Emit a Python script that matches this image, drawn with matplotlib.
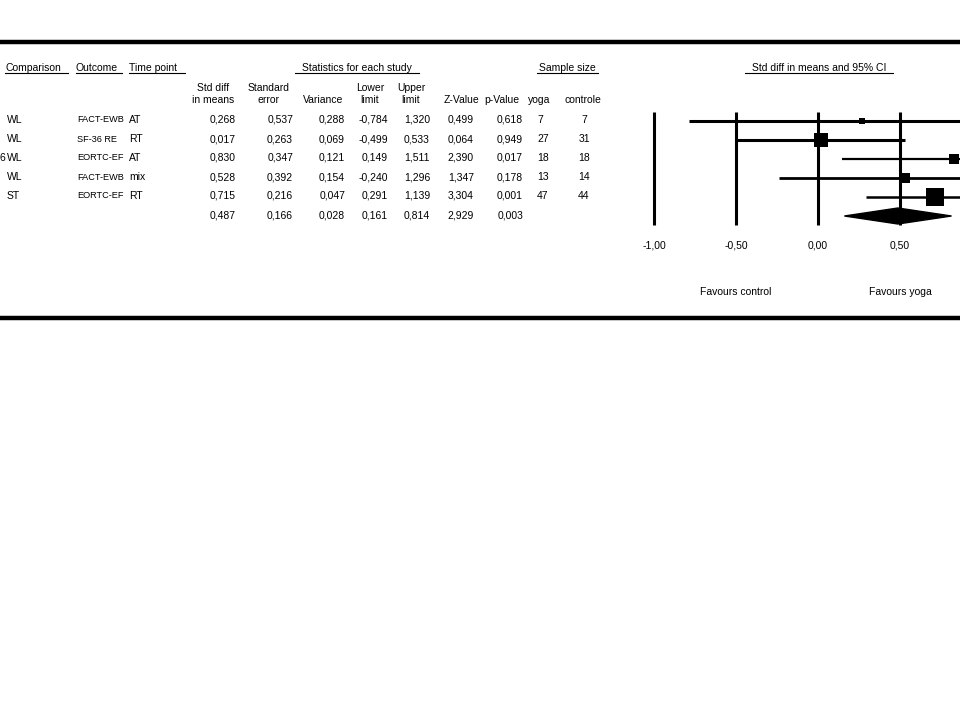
import numpy as np
import matplotlib
matplotlib.use("Agg")
import matplotlib.pyplot as plt
from matplotlib.patches import Polygon

plt.rcParams["font.family"] = ["Liberation Sans", "DejaVu Sans"]
FS = 7.5

# --- data ---
comparison = ["WL", "WL", "WL", "WL", "ST"]
outcome = ["FACT-EWB", "SF-36 RE", "EORTC-EF", "FACT-EWB", "EORTC-EF"]
time_point = ["AT", "RT", "AT", "mix", "RT"]
std_diff = [0.268, 0.017, 0.830, 0.528, 0.715]
std_err = [0.537, 0.263, 0.347, 0.392, 0.216]
variance = [0.288, 0.069, 0.121, 0.154, 0.047]
lower = [-0.784, -0.499, 0.149, -0.240, 0.291]
upper = [1.320, 0.533, 1.511, 1.296, 1.139]
z_value = [0.499, 0.064, 2.390, 1.347, 3.304]
p_value = [0.618, 0.949, 0.017, 0.178, 0.001]
n_yoga = [7, 27, 18, 13, 47]
n_control = [7, 31, 18, 14, 44]

summary = {"std_diff": 0.487, "std_err": 0.166, "variance": 0.028,
           "lower": 0.161, "upper": 0.814, "z": 2.929, "p": 0.003}

ticks = [-1.0, -0.5, 0.0, 0.5]
favours = ["Favours control", "Favours yoga"]


def fmt(v):
    return f"{v:.3f}".replace(".", ",")


fig = plt.figure(figsize=(9.6, 7.2), dpi=100)
ax = fig.add_axes([0, 0, 1, 1])
ax.set_xlim(0, 960)
ax.set_ylim(720, 0)
ax.axis("off")

# frame lines
ax.plot([0, 960], [41.5, 41.5], color="black", lw=3.2, solid_capstyle="butt")
ax.plot([0, 960], [318, 318], color="black", lw=3.2, solid_capstyle="butt")

# group headers with underlines
def underlined(x0, x1, text, ha="left"):
    tx = x0 if ha == "left" else (x0 + x1) / 2
    ax.text(tx, 68, text, ha=ha, va="center", fontsize=FS)
    ax.plot([x0, x1], [73, 73], color="black", lw=0.8)

underlined(5, 68, "Comparison")
underlined(76, 122, "Outcome")
underlined(129, 185, "Time point")
underlined(295, 419, "Statistics for each study", ha="center")
underlined(537, 598, "Sample size", ha="center")
underlined(745, 893, "Std diff in means and 95% CI", ha="center")

# column headers (centre x) and value anchors (right edge)
cols = [
    ("Std diff\nin means", 213, 236, std_diff, summary["std_diff"]),
    ("Standard\nerror", 269, 293, std_err, summary["std_err"]),
    ("\nVariance", 323, 345, variance, summary["variance"]),
    ("Lower\nlimit", 370, 388, lower, summary["lower"]),
    ("Upper\nlimit", 411, 430, upper, summary["upper"]),
    ("\nZ-Value", 462, 474, z_value, summary["z"]),
    ("\np-Value", 502, 523, p_value, summary["p"]),
]

row_y = [120 + 19 * i for i in range(len(std_diff))]
sum_y = 120 + 19 * len(std_diff)

for head, cx, rx, vals, sv in cols:
    top, bot = head.split("\n")
    if top:
        ax.text(cx, 88, top, ha="center", va="center", fontsize=FS)
    ax.text(cx, 100, bot, ha="center", va="center", fontsize=FS)
    for y, v in zip(row_y, vals):
        ax.text(rx, y, fmt(v), ha="right", va="center", fontsize=FS)
    ax.text(rx, sum_y, fmt(sv), ha="right", va="center", fontsize=FS)

ax.text(539, 100, "yoga", ha="center", va="center", fontsize=FS)
ax.text(583, 100, "controle", ha="center", va="center", fontsize=FS)

for i, y in enumerate(row_y):
    ax.text(7, y, comparison[i], ha="left", va="center", fontsize=FS)
    # narrower size so the outcome labels stay clear of the time point column
    ax.text(77, y, outcome[i], ha="left", va="center", fontsize=6.6)
    ax.text(129, y, time_point[i], ha="left", va="center", fontsize=FS)
    ax.text(537, y, str(n_yoga[i]), ha="left", va="center", fontsize=FS)
    ax.text(584, y, str(n_control[i]), ha="center", va="center", fontsize=FS)

# tail of the (cropped) study-name column
ax.text(0, row_y[2], "6", ha="left", va="center", fontsize=FS)

# --- forest panel: 0 at x=818px, 164 px per unit ---
px0, px1, py0, py1 = 600, 960, 100, 235
fax = fig.add_axes([px0 / 960, 1 - py1 / 720, (px1 - px0) / 960, (py1 - py0) / 720])
fax.set_xlim((px0 - 818) / 164, (px1 - 818) / 164)
fax.set_ylim((py1 - 121) / 19, (py0 - 121) / 19)
fax.axis("off")

for t in ticks:
    fax.plot([t, t], [-0.47, 5.45], color="black", lw=2.2, solid_capstyle="butt")

ci_lw = [2.2, 2.2, 1.6, 2.0, 1.8]
for i in range(len(std_diff)):
    fax.plot([lower[i], upper[i]], [i, i], color="black", lw=ci_lw[i],
             solid_capstyle="butt")
    side_px = 3.7 * np.sqrt(1 / variance[i])
    fax.plot(std_diff[i], i, marker="s", color="black", ms=side_px * 0.72,
             markeredgewidth=0)

k = len(std_diff)
h = 8 / 19
fax.add_patch(Polygon([[summary["lower"], k], [summary["std_diff"], k - h],
                       [summary["upper"], k], [summary["std_diff"], k + h]],
                      closed=True, color="black"))

# tick labels and favours labels in pixel coordinates
for t in ticks:
    ax.text(818 + 164 * t, 245, f"{t:.2f}".replace(".", ","), ha="center",
            va="center", fontsize=FS)
ax.text(818 - 82, 292, favours[0], ha="center", va="center", fontsize=FS)
ax.text(818 + 82, 292, favours[1], ha="center", va="center", fontsize=FS)

fig.savefig("out.png", dpi=100)
